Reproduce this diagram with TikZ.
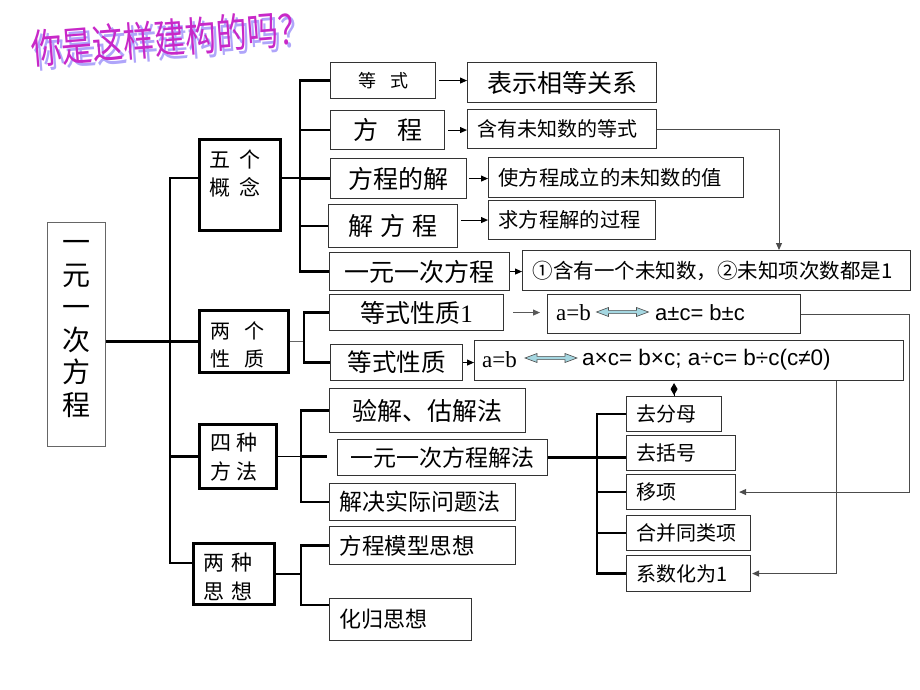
\documentclass[tikz,border=0pt]{standalone}
\usepackage{fontspec}
\setmainfont{Liberation Serif}
\newfontfamily\cjk{Noto Sans CJK SC}
\newfontfamily\arialf{Liberation Sans}
\usetikzlibrary{arrows.meta}
\definecolor{titlec}{RGB}{200,40,200}
\definecolor{shadowc}{RGB}{175,165,250}
\definecolor{arrfill}{RGB}{165,215,225}
\newcommand{\myfs}[1]{\fontsize{#1}{#1}\selectfont}
\newcommand{\titletext}{你是这样建构的吗？}
\begin{document}
\begin{tikzpicture}[x=1pt,y=-1pt,
  box/.style={draw=black!80, line width=1.1pt, inner sep=0pt, anchor=north west, font=\cjk, align=center},
  lft/.style={align=left, inner xsep=10pt, inner ysep=0pt},
  lvltwo/.style={draw=black, line width=3pt, inner sep=0pt, anchor=north west},
  lvltxt/.style={inner sep=0pt, align=left},
  spine/.style={line width=2.6pt, line join=miter},
  spinetwo/.style={line width=2.3pt, line join=miter},
  arr/.style={-{Triangle[length=7pt,width=6pt]}, line width=1pt},
  conn/.style={line width=1pt, draw=black!70},
  dbl/.style={draw=black!70, line width=0.6pt, fill=arrfill}
]
\useasboundingbox (0,0) rectangle (920,690);

% title (with its shadow, in one node)
\node[rotate=4.5, inner sep=0pt, font=\cjk\myfs{31}] (tt) at (170,40) {\scalebox{1}[1.32]{\makebox[0pt][l]{\hspace{3pt}\raisebox{-3pt}{\textcolor{shadowc}{\titletext}}}\textcolor{titlec}{\titletext}}};

% main box
\node[box, draw=black!60, line width=1.2pt, minimum width=58pt, minimum height=224pt] (M) at (47,222) {};
\node[inner sep=0pt, align=center, font=\cjk\fontsize{28}{32.5}\selectfont] (Mt) at (76,329) {一\\元\\一\\次\\方\\程};

% level two boxes
\node[lvltwo, minimum width=81pt, minimum height=91pt] (c5) at (198,138) {};
\node[lvltxt, font=\cjk\fontsize{21}{28}\selectfont] (c5t) at (235,173.5) {五\hspace{10pt}个\\概\hspace{10pt}念};
\node[lvltwo, minimum width=89pt, minimum height=62pt] (p2) at (198,309) {};
\node[lvltxt, font=\cjk\fontsize{20}{28}\selectfont] (p2t) at (237.5,344.5) {两\hspace{14pt}个\\性\hspace{14pt}质};
\node[lvltwo, minimum width=77pt, minimum height=64pt] (m4) at (198,423) {};
\node[lvltxt, font=\cjk\fontsize{21}{29}\selectfont] (m4t) at (234,457.5) {四\hspace{6pt}种\\方\hspace{6pt}法};
\node[lvltwo, minimum width=81pt, minimum height=61pt] (t2) at (192,542) {};
\node[lvltxt, font=\cjk\fontsize{21}{29}\selectfont] (t2t) at (228,576.5) {两\hspace{8pt}种\\思\hspace{8pt}想};

% level three boxes
\node[box, minimum width=105pt, minimum height=36pt, font=\cjk\myfs{18}] (dengshi) at (330,62) {等\hspace{14pt}式};
\node[box, minimum width=114pt, minimum height=39pt, font=\cjk\myfs{25}] (fc) at (330,110) {方\hspace{19pt}程};
\node[box, minimum width=136pt, minimum height=40pt, font=\cjk\myfs{25}] (fcj) at (330,158) {方程的解};
\node[box, minimum width=129pt, minimum height=43pt, font=\cjk\myfs{25}] (jfc) at (328,204) {解\hspace{7pt}方\hspace{7pt}程};
\node[box, minimum width=180pt, minimum height=38pt, font=\cjk\myfs{25}] (yy) at (329,252) {一元一次方程};
\node[box, minimum width=174pt, minimum height=36pt, font=\cjk\myfs{25}] (ds1) at (329,294) {等式性质{\rmfamily 1}};
\node[box, minimum width=132pt, minimum height=36pt, font=\cjk\myfs{24.5}] (ds) at (330,344) {等式性质};
\node[box, minimum width=196pt, minimum height=44pt, font=\cjk\myfs{25}] (yj) at (329,388) {验解、估解法};
\node[box, minimum width=210pt, minimum height=36pt, font=\cjk\myfs{23}] (yf) at (337,439) {一元一次方程解法};
\node[box, lft, text width=166pt, minimum height=37pt, font=\cjk\myfs{23}] (jj) at (329,483) {解决实际问题法};
\node[box, lft, text width=166pt, minimum height=38pt, font=\cjk\myfs{22.5}] (fm) at (329,526) {方程模型思想};
\node[box, lft, text width=122pt, minimum height=42pt, font=\cjk\myfs{22}] (hg) at (329,598) {化归思想};

% right column
\node[box, minimum width=189pt, minimum height=40pt, font=\cjk\myfs{25}] (bs) at (467,62) {表示相等关系};
\node[box, lft, text width=169pt, minimum height=39pt, font=\cjk\myfs{20}] (hy) at (467,109) {含有未知数的等式};
\node[box, lft, text width=235pt, minimum height=40pt, font=\cjk\myfs{20.3}] (sf) at (488,157) {使方程成立的未知数的值};
\node[box, lft, text width=147pt, minimum height=39pt, font=\cjk\myfs{20.3}] (qf) at (488,200) {求方程解的过程};
\node[box, lft, text width=368pt, minimum height=40pt, font=\cjk\myfs{20.5}] (c1) at (522,250) {①含有一个未知数，②未知项次数都是1};

\node[box, minimum width=253pt, minimum height=39pt] (e1) at (547,294) {};
\node[anchor=west, inner sep=0pt, font=\rmfamily\myfs{23}] (e1a) at (556,313) {a=b};
\draw[dbl, shift={(622.5,312)}] (-26,0) -- (-14,-4.5) -- (-14,-1.6) -- (14,-1.6) -- (14,-4.5) -- (26,0) -- (14,4.5) -- (14,1.6) -- (-14,1.6) -- (-14,4.5) -- cycle;
\node[anchor=west, inner sep=0pt, font=\arialf\myfs{22}] (e1b) at (655,313) {a±c= b±c};

\node[box, minimum width=429pt, minimum height=40pt] (e2) at (474,340) {};
\node[anchor=west, inner sep=0pt, font=\rmfamily\myfs{23}] (e2a) at (482,360) {a=b};
\draw[dbl, shift={(551,358)}] (-26,0) -- (-14,-4.5) -- (-14,-1.6) -- (14,-1.6) -- (14,-4.5) -- (26,0) -- (14,4.5) -- (14,1.6) -- (-14,1.6) -- (-14,4.5) -- cycle;
\node[anchor=west, inner sep=0pt, font=\arialf\myfs{22.5}] (e2b) at (582,360) {a×c= b×c; a÷c= b÷c(c≠0)};

% steps
\node[box, lft, text width=75pt, minimum height=35pt, font=\cjk\myfs{20}] (qfm) at (626,396) {去分母};
\node[box, lft, text width=89pt, minimum height=35pt, font=\cjk\myfs{20}] (kh) at (626,435) {去括号};
\node[box, lft, text width=89pt, minimum height=35pt, font=\cjk\myfs{20}] (yx) at (626,474) {移项};
\node[box, lft, text width=104pt, minimum height=35pt, font=\cjk\myfs{20}] (hb) at (626,515) {合并同类项};
\node[box, lft, text width=104pt, minimum height=36pt, font=\cjk\myfs{20}] (xs) at (626,555) {系数化为1};

% level one connectors
\coordinate (S1) at (170,178);
\coordinate (S4) at (170,563);
\draw[spine] (c5.west |- S1) -- (S1) -- (S4) -- (t2.west |- S4);
\draw[spine] (M.east |- p2.west) -- (p2.west);
\draw[spine] (m4.west -| S1) -- (m4.west);

% five concepts
\coordinate (S2) at (300,178);
\draw[spinetwo, line width=2pt] (c5.east |- S2) -- (S2);
\draw[spinetwo] (dengshi.west) -- (dengshi.west -| S2) -- (yy.west -| S2) -- (yy.west);
\foreach \n in {fc,fcj,jfc} \draw[spinetwo] (\n.west -| S2) -- (\n.west);

% two properties
\coordinate (S3) at (304,340);
\draw[line width=1pt, black!60] (p2.east) -- (p2.east -| S3);
\draw[spinetwo] (ds1.west) -- (ds1.west -| S3) -- (ds.west -| S3) -- (ds.west);

% four methods
\coordinate (S5) at (301,455);
\draw[spinetwo, line width=1.8pt] (m4.east) -- (m4.east -| S5);
\draw[spinetwo] (yj.west) -- (yj.west -| S5) -- (jj.west -| S5) -- (jj.west);
\draw[spinetwo, shorten >=10pt] (m4.east -| S5) -- (m4.east -| yf.west);

% two ideas
\coordinate (S6) at (301,569);
\coordinate (H) at (301,605);
\draw[spinetwo, line width=1.5pt] (t2.east) -- (t2.east -| S6);
\draw[spinetwo] (fm.west) -- (fm.west -| S6) -- (H) -- (H -| hg.west);

% steps
\coordinate (S7) at (597,455);
\draw[spinetwo] (yf.east) -- (yf.east -| kh.west);
\draw[spinetwo] (qfm.west) -- (qfm.west -| S7) -- (xs.west -| S7) -- (xs.west);
\foreach \n in {yx,hb} \draw[spinetwo] (\n.west -| S7) -- (\n.west);

% arrows
\draw[arr, shorten <=3pt] (dengshi.east) -- (dengshi.east -| bs.west);
\draw[arr, shorten <=3pt] (fc.east) -- (fc.east -| hy.west);
\draw[arr, shorten <=2pt] (fcj.east) -- (fcj.east -| sf.west);
\draw[arr, shorten <=3pt] (qf.west -| jfc.east) -- (qf.west);
\draw[arr] (yy.east) -- (yy.east -| c1.west);
\draw[arr, black!65, shorten <=9pt, shorten >=7pt] (ds1.east) -- (ds1.east -| e1.west);
\draw[arr] (ds.east) -- (ds.east -| e2.west);

\coordinate (K1) at (779,128);
\draw[conn, arr, line width=1pt] (hy.east) -| (K1 |- c1.north);
\coordinate (K2) at (909,316);
\draw[conn, arr, shorten >=3pt] (e1.east) -| (K2 |- yx.east) -- (yx.east);
\coordinate (K3) at (836,380);
\draw[conn, arr, shorten >=1pt] (K3 |- e2.south) -- (K3 |- xs.east) -- (xs.east);
\draw[line width=1pt, -{Diamond[length=12pt,width=7pt]}, shorten >=2pt] (qfm.north) -- (qfm.north |- e2.south);
\end{tikzpicture}
\end{document}
